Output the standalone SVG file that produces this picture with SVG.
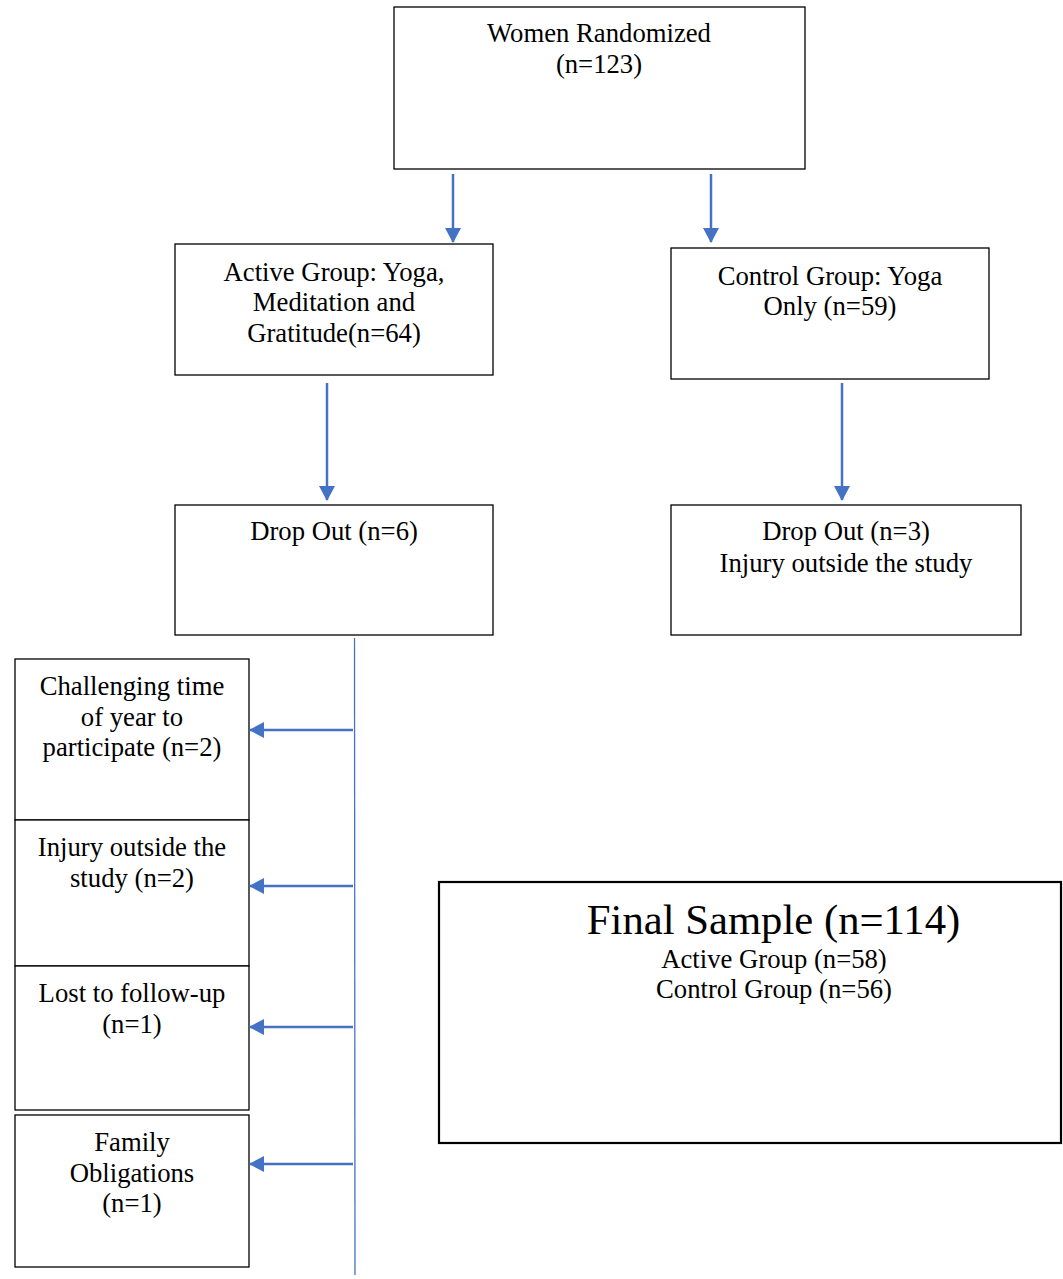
<svg xmlns="http://www.w3.org/2000/svg" width="1063" height="1279" viewBox="0 0 1063 1279">
<defs>
<marker id="ah2" markerWidth="16" markerHeight="16" refX="14" refY="8" orient="auto" markerUnits="userSpaceOnUse" viewBox="0 0 16 16">
<path d="M0,0 L15,8 L0,16 z" fill="#4472C4"/>
</marker>
<style>
.box{fill:#fff;stroke:#000;stroke-width:1.3}
.t{font-family:"Liberation Serif","Times New Roman",serif;font-size:26.7px;fill:#000;text-anchor:middle}
.c{stroke:#4472C4;stroke-width:2.5;fill:none}
</style>
</defs>
<rect width="1063" height="1279" fill="#fff"/>
<g id="randomized"><rect class="box" x="394" y="7" width="411" height="162"/>
<text class="t" x="599" y="42">Women Randomized</text><text class="t" x="599" y="73">(n=123)</text></g>
<g id="active"><rect class="box" x="175" y="244" width="318" height="131"/>
<text class="t" x="334" y="281">Active Group: Yoga,</text><text class="t" x="334" y="311">Meditation and</text><text class="t" x="334" y="342">Gratitude(n=64)</text></g>
<g id="control"><rect class="box" x="671" y="248" width="318" height="131"/>
<text class="t" x="830" y="285">Control Group: Yoga</text><text class="t" x="830" y="315">Only (n=59)</text></g>
<g id="dropout-active"><rect class="box" x="175" y="505" width="318" height="130"/>
<text class="t" x="334" y="540">Drop Out (n=6)</text></g>
<g id="dropout-control"><rect class="box" x="671" y="505" width="350" height="130"/>
<text class="t" x="846" y="540">Drop Out (n=3)</text><text class="t" x="846" y="572">Injury outside the study</text></g>
<g id="reason-challenging"><rect class="box" x="15" y="659" width="234" height="161"/>
<text class="t" x="132" y="695">Challenging time</text><text class="t" x="132" y="726">of year to</text><text class="t" x="132" y="756">participate (n=2)</text></g>
<g id="reason-injury"><rect class="box" x="15" y="820" width="234" height="146"/>
<text class="t" x="132" y="856">Injury outside the</text><text class="t" x="132" y="887">study (n=2)</text></g>
<g id="reason-lost"><rect class="box" x="15" y="966" width="234" height="144"/>
<text class="t" x="132" y="1002">Lost to follow-up</text><text class="t" x="132" y="1033">(n=1)</text></g>
<g id="reason-family"><rect class="box" x="15" y="1115" width="234" height="152"/>
<text class="t" x="132" y="1151">Family</text><text class="t" x="132" y="1182">Obligations</text><text class="t" x="132" y="1212">(n=1)</text></g>
<g id="final"><rect x="439" y="882" width="622" height="261" fill="#fff" stroke="#000" stroke-width="2.2"/>
<text class="t" x="773.5" y="934" style="font-size:42.7px">Final Sample (n=114)</text>
<text class="t" x="774" y="968">Active Group (n=58)</text><text class="t" x="774" y="998">Control Group (n=56)</text></g>
<g id="connectors">
<line class="c" x1="453" y1="174" x2="453" y2="242" marker-end="url(#ah2)"/>
<line class="c" x1="711" y1="174" x2="711" y2="242" marker-end="url(#ah2)"/>
<line class="c" x1="327" y1="383" x2="327" y2="500" marker-end="url(#ah2)"/>
<line class="c" x1="842" y1="383" x2="842" y2="500" marker-end="url(#ah2)"/>
<line x1="354.5" y1="638" x2="355" y2="1275" stroke="#4472C4" stroke-width="1.3"/>
<line class="c" x1="353" y1="730" x2="250" y2="730" marker-end="url(#ah2)"/>
<line class="c" x1="353" y1="886" x2="250" y2="886" marker-end="url(#ah2)"/>
<line class="c" x1="353" y1="1027" x2="250" y2="1027" marker-end="url(#ah2)"/>
<line class="c" x1="353" y1="1164" x2="250" y2="1164" marker-end="url(#ah2)"/>
</g>
</svg>
